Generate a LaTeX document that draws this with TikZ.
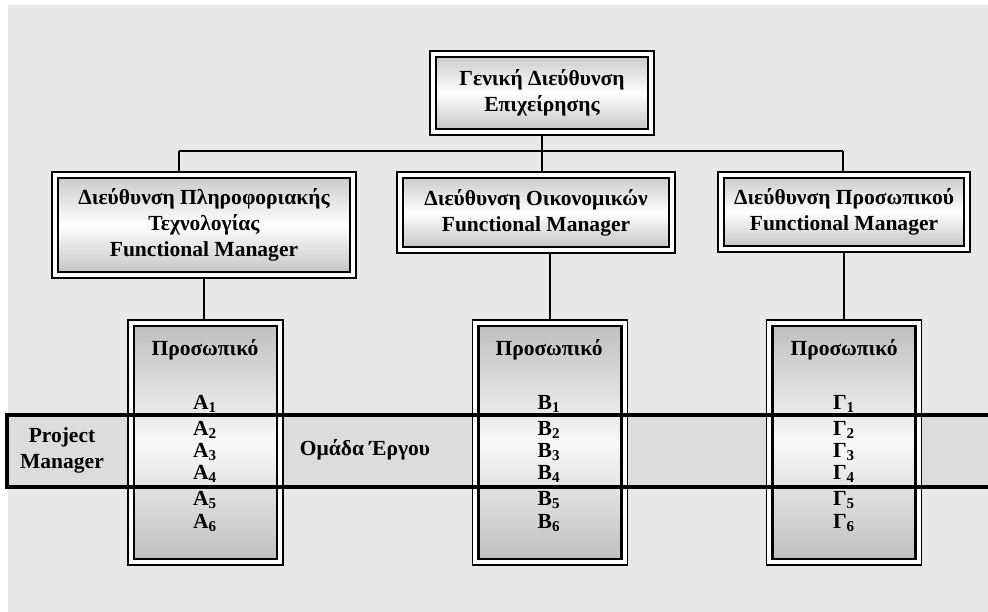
\documentclass[tikz,border=0pt]{standalone}
\usepackage{fontspec}
\setmainfont{Liberation Serif}
\usepackage{xcolor}
\usetikzlibrary{positioning, fit, backgrounds}

\definecolor{panel}{HTML}{E8E8E8}
\definecolor{bandgray}{HTML}{DCDCDC}

\begin{document}
\begin{tikzpicture}[x=0.025cm, y=-0.025cm,
            unit/.style={rectangle, draw=black, line width=2pt, outer sep=0pt, inner sep=0pt, align=center, font=\fontsize{15.3}{18.5}\selectfont\bfseries, top color=gray!40, bottom color=gray!45, middle color=white},
            staff/.style={rectangle, draw=black, line width=2pt, outer sep=0pt, minimum width=3.575cm, minimum height=5.825cm, top color=gray!50, bottom color=gray!50, middle color=white!95!gray},
            frame/.style={rectangle, draw=black, line width=1.3pt, inner sep=4.2pt, outer sep=0pt, fill=white},
            member/.style={inner sep=0pt, font=\fontsize{15.3}{18.5}\selectfont\bfseries},
            link/.style={draw=black, line width=1pt}
        ]

\useasboundingbox (0,0) rectangle (988,612);

% Background panel and project band
            \begin{scope}[on background layer]
            \fill[panel] (8,5) rectangle (988,612);
            \fill[bandgray] (7,415) rectangle (988,487);
            \end{scope}

% General management
            \node[unit, minimum width=5.3cm, minimum height=1.8cm] (gen) at (542,93) {Γενική Διεύθυνση\\Επιχείρησης};

% Functional departments
            \node[unit, minimum width=7.3cm, minimum height=2.35cm] (it) at (204,225) {Διεύθυνση Πληροφοριακής\\Τεχνολογίας\\Functional Manager};
            \node[unit, minimum width=6.65cm, minimum height=1.725cm] (fin) at (536,212.5) {Διεύθυνση Οικονομικών\\Functional Manager};
            \node[unit, minimum width=6.0cm, minimum height=1.7cm] (hr) at (844,212) {Διεύθυνση Προσωπικού\\Functional Manager};

% Staff columns
            \node[staff] (stA) at (205.5,442.5) {};
            \node[staff] (stB) at (550,442.5) {};
            \node[staff] (stC) at (844,442.5) {};

% Outer frames
            \begin{scope}[on background layer]
            \node[frame, fit=(gen)] (genF) {};
            \node[frame, fit=(it)] (itF) {};
            \node[frame, fit=(fin)] (finF) {};
            \node[frame, fit=(hr)] (hrF) {};
            \node[frame, fit=(stA)] (stAF) {};
            \node[frame, fit=(stB)] (stBF) {};
            \node[frame, fit=(stC)] (stCF) {};
            \end{scope}

% Connectors
            \coordinate (busL) at (179,151);
            \coordinate (busR) at (843,151);
            \draw[link] (busL) -- (busR);
            \draw[link] (genF.south) -- (genF.south |- busL);
            \draw[link] (busL) -- (busL |- itF.north);
            \draw[link] (genF.south |- busL) -- (genF.south |- finF.north);
            \draw[link] (busR) -- (busR |- hrF.north);
            \draw[link] (itF.south) -- (itF.south |- stAF.north);
            \draw[link] (stBF.north) -- (stBF.north |- finF.south);
            \draw[link] (hrF.south) -- (hrF.south |- stCF.north);

% Staff lists
            \node[member] (hdA) at (205,350) {Προσωπικό};
            \node[member] (hdB) at (549,350) {Προσωπικό};
            \node[member] (hdC) at (844,350) {Προσωπικό};
            \foreach \i/\y in {1/404,2/430,3/452,4/474,5/500,6/523} {
                \node[member] (a\i) at (205,\y) {Α\textsubscript{\i}};
                \node[member] (b\i) at (549,\y) {Β\textsubscript{\i}};
                \node[member] (c\i) at (844,\y) {Γ\textsubscript{\i}};
            }

% Project band
            \draw[line width=2.3pt] (988,415) -- (7,415) -- (7,487) -- (988,487);
            \node[member, align=center] (pm) at (62,450) {Project\\Manager};
            \node[member] (team) at (365,450) {Ομάδα Έργου};

        \end{tikzpicture}
\end{document}
